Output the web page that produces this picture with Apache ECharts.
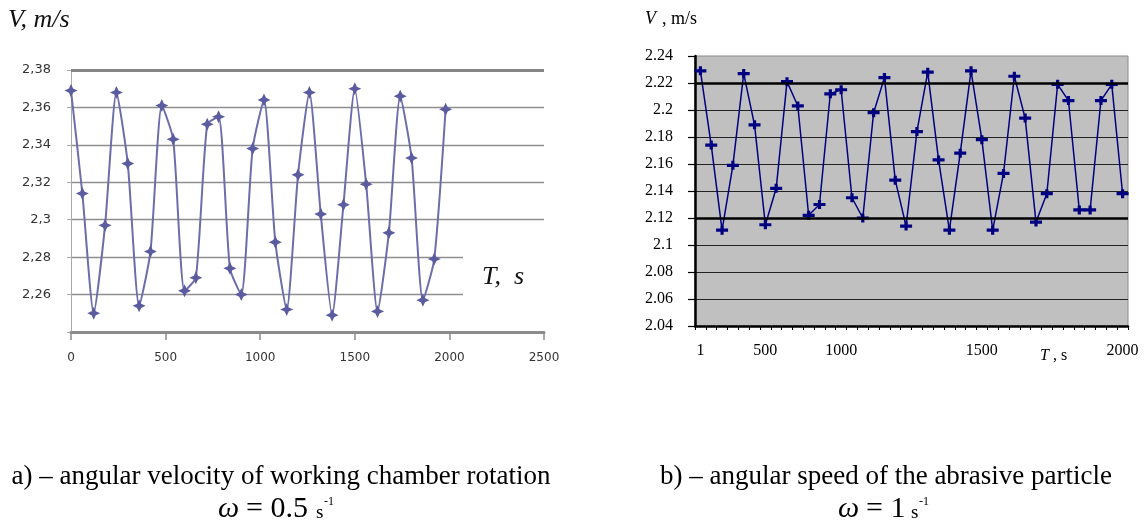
<!DOCTYPE html>
<html>
<head>
<meta charset="utf-8">
<script src="https://cdn.jsdelivr.net/npm/echarts@6/dist/echarts.min.js"></script>
<style>html,body{margin:0;padding:0;background:#fff}#c{width:1147px;height:525px}</style>
</head>
<body>
<div id="c"></div>
<script>
// ---- Chart a) data (T in s, V in m/s) ----
const leftT = [0,60,120,180,240,300,360,420,480,540,600,660,720,780,840,900,960,1020,1080,1140,1200,1260,1320,1380,1440,1500,1560,1620,1680,1740,1800,1860,1920,1980];
const leftV = [2.369,2.314,2.250,2.297,2.368,2.330,2.254,2.283,2.361,2.343,2.262,2.269,2.351,2.355,2.274,2.260,2.338,2.364,2.288,2.252,2.324,2.368,2.303,2.249,2.308,2.370,2.319,2.251,2.293,2.366,2.333,2.257,2.279,2.359];
const leftXTicks = [0,500,1000,1500,2000,2500];
const leftYTicks = [2.24,2.26,2.28,2.30,2.32,2.34,2.36,2.38];

// ---- Chart b) data ----
const rightCats = ['1','','','','','','500','','','','','','','1000','','','','','','','','','','','','','1500','','','','','','','','','','','','','2000'];
const rightV = [2.229,2.174,2.111,2.159,2.227,2.189,2.115,2.142,2.221,2.203,2.122,2.130,2.212,2.215,2.135,2.120,2.198,2.224,2.148,2.114,2.184,2.228,2.163,2.111,2.168,2.229,2.178,2.111,2.153,2.225,2.194,2.117,2.138,2.219,2.207,2.126,2.126,2.207,2.219,2.138];
const rightYTicks = [2.04,2.06,2.08,2.10,2.12,2.14,2.16,2.18,2.20,2.22,2.24];
const rightThickLines = [2.22,2.12];

const SERIF = "'Liberation Serif','Times New Roman',serif";
const SANS = "'DejaVu Sans',Verdana,sans-serif";
const starPath = 'path://M0,-10 L3.2,-3.2 L10,0 L3.2,3.2 L0,10 L-3.2,3.2 L-10,0 L-3.2,-3.2 Z';
const plusPath = 'path://M-6,-1.6 L6,-1.6 L6,1.6 L-6,1.6 Z M-1.6,-4.5 L1.6,-4.5 L1.6,4.5 L-1.6,4.5 Z';

const chart = echarts.init(document.getElementById('c'), null, {renderer:'canvas'});
const fmtComma = v => (Math.abs(v - leftYTicks[0]) < 1e-9) ? '' : String(+(+v).toFixed(2)).replace('.', ',');
const fmtDot = v => String(+(+v).toFixed(2));

chart.setOption({
  animation: false,
  backgroundColor: '#ffffff',
  grid: [
    {left: 71, top: 70, width: 473, height: 262, containLabel: false},
    {left: 695, top: 56, width: 433, height: 270, containLabel: false, show: true,
     backgroundColor: '#c0c0c0', borderColor: '#8a8a8a', borderWidth: 1}
  ],
  xAxis: [
    {type: 'value', gridIndex: 0, min: leftXTicks[0], max: leftXTicks[leftXTicks.length-1], interval: 500,
     axisLine: {show: true, lineStyle: {color: '#8c8c8c', width: 3}},
     axisTick: {show: true, length: 8, lineStyle: {color: '#8c8c8c', width: 1.5}},
     axisLabel: {margin: 20, fontFamily: SANS, fontSize: 12, color: '#333', formatter: v => String(v)},
     splitLine: {show: false}},
    {type: 'category', gridIndex: 1, data: rightCats, boundaryGap: true,
     axisLine: {show: true, lineStyle: {color: '#000', width: 2.5}},
     axisTick: {show: true, interval: 0, length: 4, lineStyle: {color: '#000', width: 1}},
     axisLabel: {interval: 0, margin: 17, fontFamily: SERIF, fontSize: 16, color: '#000'},
     splitLine: {show: false}}
  ],
  yAxis: [
    {type: 'value', gridIndex: 0, min: leftYTicks[0], max: leftYTicks[leftYTicks.length-1], interval: 0.02,
     axisLine: {show: true, lineStyle: {color: '#aaaaaa', width: 1}},
     axisTick: {show: true, length: 4, lineStyle: {color: '#aaaaaa'}},
     axisLabel: {margin: 20, fontFamily: SANS, fontSize: 13, color: '#333', formatter: fmtComma},
     splitLine: {show: true, showMinLine: false, lineStyle: {color: '#8e8e8e', width: 1.4}}},
    {type: 'value', gridIndex: 1, min: rightYTicks[0], max: rightYTicks[rightYTicks.length-1], interval: 0.02,
     axisLine: {show: true, lineStyle: {color: '#000', width: 2.5}},
     axisTick: {show: true, length: 7, lineStyle: {color: '#000', width: 1.2}},
     axisLabel: {margin: 22, fontFamily: SERIF, fontSize: 16, color: '#000', formatter: fmtDot},
     splitLine: {show: true, showMinLine: false, showMaxLine: false, lineStyle: {color: '#222', width: 1.1}}}
  ],
  series: [
    {type: 'line', xAxisIndex: 0, yAxisIndex: 0, data: [], z: 1, silent: true,
     markLine: {silent: true, symbol: 'none', label: {show: false},
       lineStyle: {color: '#858585', width: 3, type: 'solid'},
       data: [{yAxis: leftYTicks[leftYTicks.length-1]}]}},
    {type: 'line', xAxisIndex: 0, yAxisIndex: 0, z: 3,
     data: leftT.map((t, i) => [t, leftV[i]]),
     smooth: 0.2,
     lineStyle: {color: '#6d6dab', width: 2},
     symbol: starPath, symbolSize: 13,
     itemStyle: {color: '#5b5ba0'}},
    {type: 'line', xAxisIndex: 1, yAxisIndex: 1, data: [], z: 1, silent: true,
     markLine: {silent: true, symbol: 'none', label: {show: false},
       lineStyle: {color: '#000', width: 2.5, type: 'solid'},
       data: rightThickLines.map(v => ({yAxis: v}))}},
    {type: 'line', xAxisIndex: 1, yAxisIndex: 1, z: 3,
     data: rightV,
     lineStyle: {color: '#000080', width: 1.5},
     symbol: plusPath, symbolSize: [12, 9],
     itemStyle: {color: '#000080'}}
  ],
  graphic: [
    {type: 'rect', z: 50, shape: {x: 463, y: 240, width: 84, height: 70}, style: {fill: '#ffffff'}},
    {type: 'text', z: 51, left: 482, top: 264, style: {text: 'T,  s', font: 'italic 26px ' + SERIF, fill: '#111'}},
    {type: 'text', z: 51, left: 8, top: 7, style: {text: 'V, m/s', font: 'italic 26px ' + SERIF, fill: '#111'}},
    {type: 'text', z: 51, left: 645, top: 10, style: {text: 'V', font: 'italic 18px ' + SERIF, fill: '#000'}},
    {type: 'text', z: 51, left: 662, top: 10, style: {text: ', m/s', font: '18px ' + SERIF, fill: '#000'}},
    {type: 'text', z: 51, left: 1040, top: 348, style: {text: 'T', font: 'italic 16px ' + SERIF, fill: '#000'}},
    {type: 'text', z: 51, left: 1053, top: 348, style: {text: ', s', font: '16px ' + SERIF, fill: '#000'}},
    {type: 'text', z: 51, x: 281, y: 477, style: {text: 'a) – angular velocity of working chamber rotation', font: '27px ' + SERIF, fill: '#000', align: 'center', verticalAlign: 'middle'}},
    {type: 'text', z: 51, x: 886, y: 477, style: {text: 'b) – angular speed of the abrasive particle', font: '27px ' + SERIF, fill: '#000', align: 'center', verticalAlign: 'middle'}},
    {type: 'text', z: 51, x: 218, y: 509, style: {text: 'ω', font: 'italic 30px ' + SERIF, fill: '#000', align: 'left', verticalAlign: 'middle'}},
    {type: 'text', z: 51, x: 246, y: 509, style: {text: '= 0.5', font: '30px ' + SERIF, fill: '#000', align: 'left', verticalAlign: 'middle'}},
    {type: 'text', z: 51, x: 316, y: 513, style: {text: 's', font: '19px ' + SERIF, fill: '#000', align: 'left', verticalAlign: 'middle'}},
    {type: 'text', z: 51, x: 324, y: 502, style: {text: '-1', font: '12px ' + SERIF, fill: '#000', align: 'left', verticalAlign: 'middle'}},
    {type: 'text', z: 51, x: 838, y: 509, style: {text: 'ω', font: 'italic 30px ' + SERIF, fill: '#000', align: 'left', verticalAlign: 'middle'}},
    {type: 'text', z: 51, x: 866, y: 509, style: {text: '= 1', font: '30px ' + SERIF, fill: '#000', align: 'left', verticalAlign: 'middle'}},
    {type: 'text', z: 51, x: 911, y: 513, style: {text: 's', font: '19px ' + SERIF, fill: '#000', align: 'left', verticalAlign: 'middle'}},
    {type: 'text', z: 51, x: 919, y: 502, style: {text: '-1', font: '12px ' + SERIF, fill: '#000', align: 'left', verticalAlign: 'middle'}}
  ]
});
</script>
</body>
</html>
